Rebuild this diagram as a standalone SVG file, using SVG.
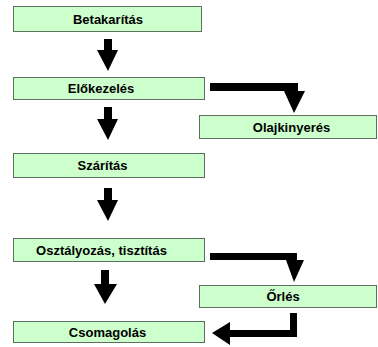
<svg xmlns="http://www.w3.org/2000/svg" width="378" height="347" viewBox="0 0 378 347">
<style>
.box{fill:#ccffcc;stroke:#5f6f5f;stroke-width:1}
.lbl{font-family:"Liberation Sans",Arial,sans-serif;font-weight:bold;font-size:13px;fill:#000;text-anchor:middle}
.arr{fill:#000;stroke:none}
</style>
<rect width="378" height="347" fill="#fff"/>
<g id="betakaritas"><rect class="box" x="13.5" y="6.5" width="188" height="25"/><text class="lbl" x="108" y="23.5">Betakarítás</text></g>
<g id="elokezeles"><rect class="box" x="13.5" y="77.5" width="191" height="22"/><text class="lbl" x="101" y="93">Előkezelés</text></g>
<g id="olajkinyeres"><rect class="box" x="199.5" y="115.5" width="177" height="23"/><text class="lbl" x="291.5" y="131.5">Olajkinyerés</text></g>
<g id="szaritas"><rect class="box" x="13.5" y="153.5" width="191" height="24"/><text class="lbl" x="102.5" y="170">Szárítás</text></g>
<g id="osztalyozas"><rect class="box" x="13.5" y="238.5" width="191" height="23"/><text class="lbl" x="101.5" y="254.5">Osztályozás, tisztítás</text></g>
<g id="orles"><rect class="box" x="199.5" y="285.5" width="177" height="22"/><text class="lbl" x="283" y="301">Őrlés</text></g>
<g id="csomagolas"><rect class="box" x="13.5" y="321.5" width="191" height="21"/><text class="lbl" x="107.5" y="337">Csomagolás</text></g>
<g id="connectors">
<polygon class="arr" points="104,39 112,39 112,50 118,50 108,71 97,50 104,50"/>
<polygon class="arr" points="104,107 112,107 112,119 118,119 108,140 97,119 104,119"/>
<polygon class="arr" points="104,188 112,188 112,200 118,200 108,221 97,200 104,200"/>
<polygon class="arr" points="101,270 109,270 109,284 117,284 105,304 94,284 101,284"/>
<polygon class="arr" points="210,83 298,83 298,91 305,91 294,113 284,91 210,91"/>
<polygon class="arr" points="210,253 297,253 297,260 304,260 294,282 286,260 210,260"/>
<polygon class="arr" points="290,313 297,313 297,337 230,337 230,345 212,333 230,322 230,330 290,330"/>
</g>
</svg>
